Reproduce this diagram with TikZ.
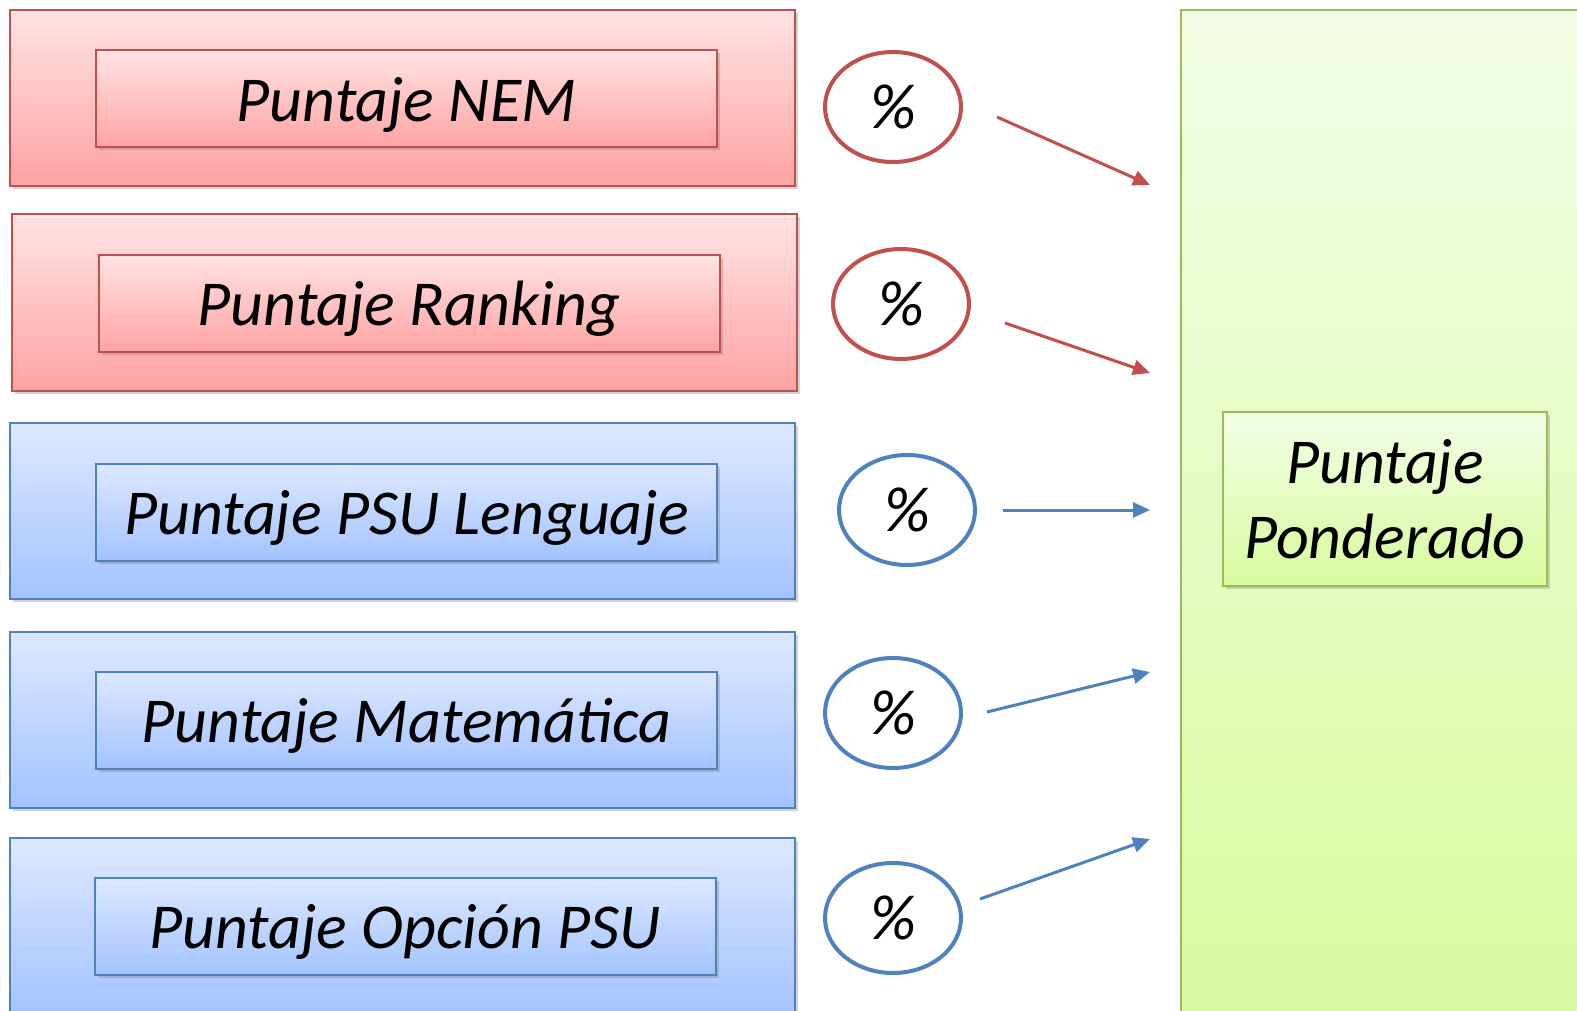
\documentclass[tikz,border=0pt]{standalone}
\usepackage{fontspec}
\setmainfont{Carlito}
\usetikzlibrary{shapes.geometric,shadows,arrows.meta}
\definecolor{redline}{HTML}{C0504D}
\definecolor{redtop}{HTML}{FFE3E3}
\definecolor{redbot}{HTML}{FFA3A3}
\definecolor{blueline}{HTML}{4F81BD}
\definecolor{bluetop}{HTML}{DDE8FF}
\definecolor{bluebot}{HTML}{A3C3FF}
\definecolor{greenline}{HTML}{9BBB59}
\definecolor{greentop}{HTML}{F3FDE6}
\definecolor{greenbot}{HTML}{D7FA9E}
\tikzset{
  boxshadow/.style={drop shadow={opacity=0.35,shadow xshift=3pt,shadow yshift=-3pt}},
  redbox/.style={rectangle,draw=redline,line width=2pt,top color=redtop,bottom color=redbot,boxshadow},
  bluebox/.style={rectangle,draw=blueline,line width=2pt,top color=bluetop,bottom color=bluebot,boxshadow},
  greenbox/.style={rectangle,draw=greenline,line width=2pt,top color=greentop,bottom color=greenbot,boxshadow},
  outerbox/.style={minimum width=785pt,minimum height=176pt},
  innerbox/.style={minimum width=621pt,minimum height=97pt,text depth=0pt,
    font=\fontsize{64}{75}\selectfont\itshape},
  pct/.style={ellipse,draw=#1,line width=4pt,fill=white,minimum width=136pt,minimum height=110pt,
    font=\fontsize{64}{75}\selectfont\itshape},
  redarrow/.style={draw=redline,line width=3pt,-{Triangle[length=17pt,width=15pt]}},
  bluearrow/.style={draw=blueline,line width=3pt,-{Triangle[length=17pt,width=15pt]}}
}
\begin{document}
\begin{tikzpicture}[x=1pt,y=-1pt]
\clip (0,0) rectangle (1577,1011);
\fill[white] (0,0) rectangle (1577,1011);

% score boxes
\node[redbox,outerbox] (nemOut) at (402.5,98) {};
\node[redbox,innerbox] (nem) at (406.5,99) {Puntaje NEM};
\node[redbox,outerbox] (rankOut) at (404.5,302.5) {};
\node[redbox,innerbox] (rank) at (409,303.5) {Puntaje Ranking};
\node[bluebox,outerbox] (lengOut) at (402.5,510.5) {};
\node[bluebox,innerbox] (leng) at (406.5,512) {Puntaje PSU Lenguaje};
\node[bluebox,outerbox] (mateOut) at (402.5,719.5) {};
\node[bluebox,innerbox] (mate) at (406.5,720) {Puntaje Matemática};
\node[bluebox,outerbox] (opcOut) at (402.5,926) {};
\node[bluebox,innerbox] (opc) at (405,926.5) {Puntaje Opción PSU};

% weights
\node[pct=redline] (pNem) at (893,107) {\%};
\node[pct=redline] (pRank) at (901,304) {\%};
\node[pct=blueline] (pLeng) at (907,510) {\%};
\node[pct=blueline] (pMate) at (893,713) {\%};
\node[pct=blueline] (pOpc) at (893,918) {\%};

% result
\node[greenbox,minimum width=410pt,minimum height=1020pt] (pondOut) at (1386,520) {};
\node[greenbox,minimum width=324pt,minimum height=174pt,align=center,
  font=\fontsize{64}{75}\selectfont\itshape] (pond) at (1385,499) {Puntaje\\Ponderado};

\coordinate (inNem) at (1150,185);
\coordinate (inRank) at (1150,373);
\coordinate (inLeng) at (1150,510);
\coordinate (inMate) at (1150,672);
\coordinate (inOpc) at (1150,839);

\draw[redarrow] ([shift={(34,10)}]pNem.east) -- (inNem);
\draw[redarrow] ([shift={(34,19)}]pRank.east) -- (inRank);
\draw[bluearrow] ([shift={(26,0)}]pLeng.east) -- (inLeng);
\draw[bluearrow] ([shift={(24,-1)}]pMate.east) -- (inMate);
\draw[bluearrow] ([shift={(17,-19)}]pOpc.east) -- (inOpc);
\end{tikzpicture}
\end{document}
